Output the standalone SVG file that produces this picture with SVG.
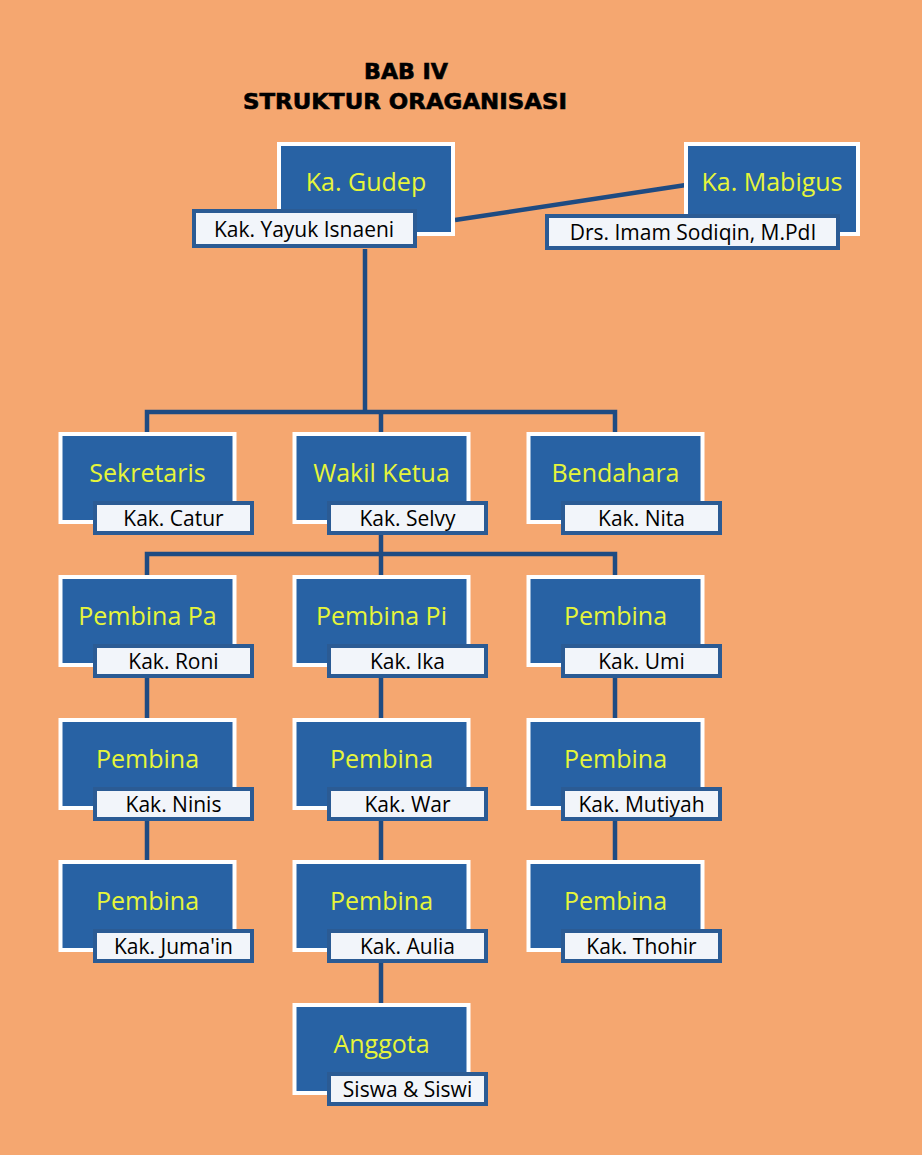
<svg xmlns="http://www.w3.org/2000/svg" width="922" height="1155" viewBox="0 0 922 1155">
<style>
.bg{fill:#F5A770}
.box{fill:#2862A4;stroke:#FFFFFF;stroke-width:4}
.lab{fill:#F2F5FA;stroke:#2B5B94;stroke-width:4}
.t{font-family:"Open Sans","Liberation Sans",sans-serif;font-size:25px;fill:#E6F53A;text-anchor:middle}
.l{font-family:"Open Sans","Liberation Sans",sans-serif;font-size:21px;fill:#000000;text-anchor:middle}
.h{font-family:"DejaVu Sans","Liberation Sans",sans-serif;font-weight:bold;font-size:21px;fill:#000000;stroke:#000000;stroke-width:0.6;text-anchor:middle}
.c{fill:none;stroke:#1E4B82;stroke-width:4.5}
</style>
<rect class="bg" x="0" y="0" width="922" height="1155"/>
<g id="title">
<text class="h" x="406" y="79" textLength="84" lengthAdjust="spacingAndGlyphs">BAB IV</text>
<text class="h" x="405" y="109" textLength="324" lengthAdjust="spacingAndGlyphs">STRUKTUR ORAGANISASI</text>
</g>
<g id="connectors">
<line class="c" x1="455" y1="220" x2="686" y2="185"/>
<polyline class="c" points="365,249 365,412"/>
<polyline class="c" points="147,432 147,412 615,412 615,432"/>
<line class="c" x1="381" y1="412" x2="381" y2="432"/>
<polyline class="c" points="381,535 381,575"/>
<polyline class="c" points="147,575 147,554 615,554 615,575"/>
<line class="c" x1="147" y1="678" x2="147" y2="718"/>
<line class="c" x1="147" y1="821" x2="147" y2="860"/>
<line class="c" x1="381" y1="678" x2="381" y2="718"/>
<line class="c" x1="381" y1="821" x2="381" y2="860"/>
<line class="c" x1="381" y1="963" x2="381" y2="1003"/>
<line class="c" x1="615" y1="678" x2="615" y2="718"/>
<line class="c" x1="615" y1="821" x2="615" y2="860"/>
</g>
<g id="ka-gudep">
<rect class="box" x="279" y="144" width="174" height="90"/>
<text class="t" x="366" y="191">Ka. Gudep</text>
<rect class="lab" x="194" y="211" width="221" height="35"/>
<text class="l" x="304" y="237">Kak. Yayuk Isnaeni</text>
</g>
<g id="ka-mabigus">
<rect class="box" x="686" y="144" width="172" height="90"/>
<text class="t" x="772" y="191">Ka. Mabigus</text>
<rect class="lab" x="547" y="216" width="291" height="32"/>
<text class="l" x="693" y="240">Drs. Imam Sodiqin, M.PdI</text>
</g>
<g id="sekretaris">
<rect class="box" x="60.5" y="434" width="174" height="88"/>
<text class="t" x="147.5" y="482">Sekretaris</text>
<rect class="lab" x="95" y="503" width="157" height="30"/>
<text class="l" x="173.5" y="526">Kak. Catur</text>
</g>
<g id="wakil-ketua">
<rect class="box" x="294.5" y="434" width="174" height="88"/>
<text class="t" x="381.5" y="482">Wakil Ketua</text>
<rect class="lab" x="329" y="503" width="157" height="30"/>
<text class="l" x="407.5" y="526">Kak. Selvy</text>
</g>
<g id="bendahara">
<rect class="box" x="528.5" y="434" width="174" height="88"/>
<text class="t" x="615.5" y="482">Bendahara</text>
<rect class="lab" x="563" y="503" width="157" height="30"/>
<text class="l" x="641.5" y="526">Kak. Nita</text>
</g>
<g id="pembina-pa">
<rect class="box" x="60.5" y="577" width="174" height="88"/>
<text class="t" x="147.5" y="625">Pembina Pa</text>
<rect class="lab" x="95" y="646" width="157" height="30"/>
<text class="l" x="173.5" y="669">Kak. Roni</text>
</g>
<g id="pembina-pi">
<rect class="box" x="294.5" y="577" width="174" height="88"/>
<text class="t" x="381.5" y="625">Pembina Pi</text>
<rect class="lab" x="329" y="646" width="157" height="30"/>
<text class="l" x="407.5" y="669">Kak. Ika</text>
</g>
<g id="pembina-umi">
<rect class="box" x="528.5" y="577" width="174" height="88"/>
<text class="t" x="615.5" y="625">Pembina</text>
<rect class="lab" x="563" y="646" width="157" height="30"/>
<text class="l" x="641.5" y="669">Kak. Umi</text>
</g>
<g id="pembina-ninis">
<rect class="box" x="60.5" y="720" width="174" height="88"/>
<text class="t" x="147.5" y="768">Pembina</text>
<rect class="lab" x="95" y="789" width="157" height="30"/>
<text class="l" x="173.5" y="812">Kak. Ninis</text>
</g>
<g id="pembina-war">
<rect class="box" x="294.5" y="720" width="174" height="88"/>
<text class="t" x="381.5" y="768">Pembina</text>
<rect class="lab" x="329" y="789" width="157" height="30"/>
<text class="l" x="407.5" y="812">Kak. War</text>
</g>
<g id="pembina-mutiyah">
<rect class="box" x="528.5" y="720" width="174" height="88"/>
<text class="t" x="615.5" y="768">Pembina</text>
<rect class="lab" x="563" y="789" width="157" height="30"/>
<text class="l" x="641.5" y="812">Kak. Mutiyah</text>
</g>
<g id="pembina-jumain">
<rect class="box" x="60.5" y="862" width="174" height="88"/>
<text class="t" x="147.5" y="910">Pembina</text>
<rect class="lab" x="95" y="931" width="157" height="30"/>
<text class="l" x="173.5" y="954">Kak. Juma'in</text>
</g>
<g id="pembina-aulia">
<rect class="box" x="294.5" y="862" width="174" height="88"/>
<text class="t" x="381.5" y="910">Pembina</text>
<rect class="lab" x="329" y="931" width="157" height="30"/>
<text class="l" x="407.5" y="954">Kak. Aulia</text>
</g>
<g id="pembina-thohir">
<rect class="box" x="528.5" y="862" width="174" height="88"/>
<text class="t" x="615.5" y="910">Pembina</text>
<rect class="lab" x="563" y="931" width="157" height="30"/>
<text class="l" x="641.5" y="954">Kak. Thohir</text>
</g>
<g id="anggota">
<rect class="box" x="294.5" y="1005" width="174" height="88"/>
<text class="t" x="381.5" y="1053">Anggota</text>
<rect class="lab" x="329" y="1074" width="157" height="30"/>
<text class="l" x="407.5" y="1097">Siswa &amp; Siswi</text>
</g>
</svg>
